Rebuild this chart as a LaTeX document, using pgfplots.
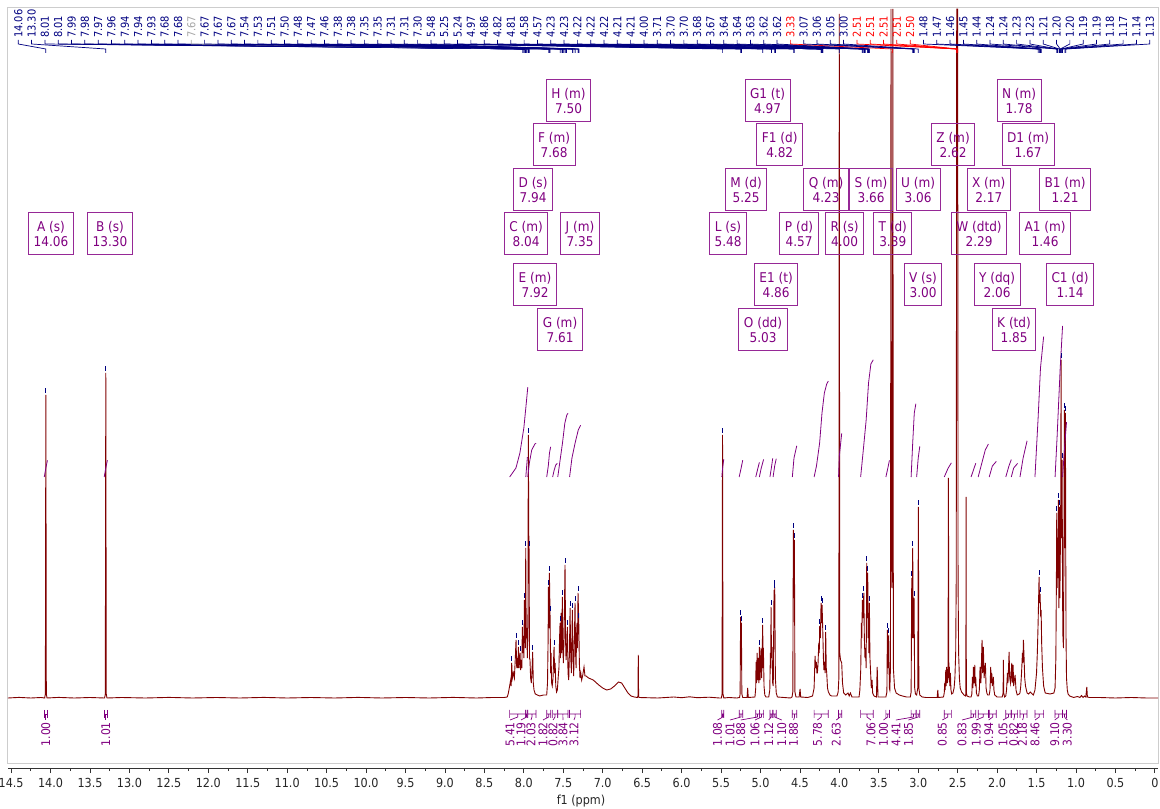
\documentclass[border=0pt]{standalone}
\usepackage{fontspec}
\setmainfont{DejaVu Sans Condensed}
\usepackage{pgfplots}
\pgfplotsset{compat=1.18}

\definecolor{spec}{RGB}{128,0,0}
\definecolor{pk}{RGB}{0,0,128}
\definecolor{gry}{RGB}{165,165,165}
\definecolor{solv}{RGB}{255,0,0}
\definecolor{mult}{RGB}{128,0,128}
\definecolor{boxc}{RGB}{150,40,150}
\definecolor{framec}{RGB}{205,205,205}

\newcommand\pklabelfont{\fontsize{11}{11}\selectfont}
\newcommand\intfont{\fontsize{12}{12}\selectfont}
\newcommand\boxfont{\fontsize{13.5}{15}\selectfont}

\begin{document}
\begin{tikzpicture}
\useasboundingbox (0,0) rectangle (1160bp,809bp);
\begin{axis}[
  at={(8bp,41bp)}, anchor=south west,
  scale only axis, width=1150bp, height=760bp,
  xmin=-0.04, xmax=14.54, ymin=-70, ymax=690,
  x dir=reverse, clip=false,
  axis x line*=bottom, axis y line=none,
  x axis line style={-, black!80, line width=0.8bp},
  xtick={0,0.5,1,1.5,2,2.5,3,3.5,4,4.5,5,5.5,6,6.5,7,7.5,8,8.5,9,9.5,10,10.5,11,11.5,12,12.5,13,13.5,14,14.5},
  xticklabels={0,0.5,1.0,1.5,2.0,2.5,3.0,3.5,4.0,4.5,5.0,5.5,6.0,6.5,7.0,7.5,8.0,8.5,9.0,9.5,10.0,10.5,11.0,11.5,12.0,12.5,13.0,13.5,14.0,14.5},
  minor x tick num=1,
  tick align=outside,
  major tick length=5bp, minor tick length=3bp,
  every tick/.style={black!80, line width=0.8bp},
  xticklabel style={font=\fontsize{12.5}{12.5}\selectfont, text=black!85, yshift=-2bp},
]

% light frame round the spectrum area
\draw[framec, line width=1bp] (axis cs:14.54,-65) rectangle (axis cs:-0.04,690);

% 1H spectrum
\addplot[spec, line width=0.9bp] coordinates {
(14.54,0) (14.40,0.6) (14.25,0) (14.12,0.5)
(14.075,0) (14.066,4) (14.06,303) (14.054,4) (14.045,0)
(13.90,0.6) (13.70,0) (13.50,0.5)
(13.315,0) (13.306,4) (13.30,325) (13.294,4) (13.285,0)
(13.10,0.5) (12.80,0) (12.50,0.6) (12.20,0) (11.90,0.5) (11.60,0) (11.30,0.6) (11.00,0) (10.70,0.5) (10.40,0) (10.10,0.6) (9.80,0) (9.50,0.5) (9.20,0) (8.90,0.6) (8.60,0) (8.40,0.5) (8.25,0.5)
(8.21,1) (8.196,5) (8.18,12) (8.167,18) (8.16,12) (8.154,35) (8.145,20) (8.133,25) (8.12,20) (8.108,40) (8.099,58) (8.09,30) (8.082,40) (8.075,30) (8.069,51) (8.06,30) (8.048,45) (8.04,28) (8.031,38) (8.025,30) (8.019,71) (8.012,45) (8.006,62) (7.999,40) (7.993,98) (7.988,55) (7.985,65) (7.98,50) (7.976,150) (7.97,60) (7.964,70) (7.955,40) (7.948,80) (7.943,263) (7.937,160) (7.934,150) (7.928,40) (7.922,38) (7.914,20) (7.905,15) (7.895,30) (7.888,46) (7.88,15) (7.871,8) (7.855,4) (7.80,2) (7.75,3) (7.72,3)
(7.71,3) (7.70,15) (7.692,60) (7.689,111) (7.683,70) (7.676,125) (7.668,85) (7.66,25) (7.655,45) (7.648,15) (7.64,12) (7.63,20) (7.622,40) (7.617,51) (7.61,25) (7.603,35) (7.595,12) (7.585,6) (7.575,8)
(7.565,20) (7.555,30) (7.547,60) (7.541,75) (7.535,40) (7.528,85) (7.52,45) (7.512,101) (7.505,50) (7.499,35) (7.49,60) (7.478,133) (7.47,55) (7.465,38) (7.455,50) (7.448,71) (7.44,25) (7.431,18) (7.422,45) (7.414,90) (7.405,40) (7.397,25) (7.39,60) (7.385,88) (7.376,40) (7.368,22) (7.36,55) (7.351,95) (7.344,45) (7.338,30) (7.332,60) (7.326,75) (7.32,50) (7.313,105) (7.304,78) (7.296,35) (7.288,20) (7.278,25) (7.267,18) (7.255,22) (7.237,31) (7.225,22)
(7.21,22) (7.18,20) (7.12,18) (7.05,13) (7.00,10) (6.95,8) (6.90,9) (6.85,12) (6.80,16) (6.76,15) (6.72,10) (6.68,5) (6.64,2) (6.60,1) (6.56,0.5)
(6.553,2) (6.549,43) (6.545,2) (6.54,0.5)
(6.30,0) (6.10,1) (6.00,0.3) (5.90,1.2) (5.80,0.3) (5.65,0.8) (5.52,0)
(5.495,0) (5.487,4) (5.481,263) (5.475,4) (5.465,0)
(5.40,0.5) (5.30,0)
(5.265,0.5) (5.258,4) (5.252,81) (5.247,40) (5.242,75) (5.236,4) (5.225,0.5)
(5.17,0.5) (5.162,10) (5.155,0.5)
(5.07,1) (5.06,10) (5.056,36) (5.05,15) (5.043,45) (5.035,18) (5.026,40) (5.02,15) (5.014,51) (5.005,18) (4.993,50) (4.985,20) (4.978,45) (4.972,73) (4.966,30) (4.963,50) (4.955,12) (4.945,3) (4.93,1)
(4.895,1) (4.882,8) (4.874,45) (4.87,30) (4.866,91) (4.86,40) (4.853,51) (4.845,15) (4.838,12) (4.828,108) (4.824,70) (4.819,111) (4.811,20) (4.80,5) (4.785,1)
(4.70,0.5) (4.62,0)
(4.60,1) (4.59,6) (4.583,168) (4.577,100) (4.57,158) (4.563,6) (4.55,1)
(4.51,1) (4.498,9) (4.49,1) (4.40,0.5)
(4.34,2) (4.32,10) (4.308,42) (4.30,30) (4.291,36) (4.285,25) (4.278,25) (4.27,35) (4.261,55) (4.255,45) (4.249,72) (4.24,60) (4.232,95) (4.226,75) (4.219,93) (4.211,70) (4.202,40) (4.196,28) (4.19,36) (4.18,25) (4.173,66) (4.166,30) (4.16,25) (4.15,10) (4.139,6) (4.12,3) (4.10,2)
(4.03,2) (4.015,6) (4.006,20) (4.001,684) (3.995,45) (3.985,38) (3.97,35) (3.96,15) (3.945,5) (3.92,3) (3.89,5) (3.875,2) (3.86,5) (3.84,1) (3.78,1)
(3.75,1) (3.74,8) (3.729,28) (3.72,75) (3.715,60) (3.708,98) (3.70,80) (3.69,105) (3.683,60) (3.675,40) (3.668,50) (3.66,30) (3.653,135) (3.647,80) (3.64,125) (3.635,60) (3.63,85) (3.625,45) (3.619,95) (3.612,40) (3.605,28) (3.595,10) (3.585,18) (3.578,5) (3.56,2)
(3.53,1) (3.52,31) (3.51,1)
(3.41,1) (3.397,6) (3.391,68) (3.383,30) (3.374,63) (3.366,10) (3.36,8)
(3.352,30) (3.345,689) (3.339,140) (3.333,110) (3.327,140) (3.322,689) (3.315,30) (3.30,10) (3.28,5) (3.24,3) (3.20,2) (3.15,1)
(3.10,1) (3.09,6) (3.082,120) (3.077,60) (3.07,150) (3.062,60) (3.053,100) (3.045,10) (3.035,4)
(3.02,3) (3.006,10) (2.998,191) (2.992,10) (2.98,3) (2.95,1) (2.90,0.5)
(2.76,0.5) (2.752,8) (2.745,0.5)
(2.68,1) (2.67,5) (2.664,15) (2.658,8) (2.651,28) (2.645,12) (2.639,31) (2.63,15) (2.622,20) (2.617,220) (2.612,20) (2.605,31) (2.60,12) (2.592,25) (2.585,8) (2.575,4)
(2.56,5) (2.545,10) (2.535,20) (2.525,45) (2.518,120) (2.512,689) (2.506,689) (2.50,689) (2.495,120) (2.488,45) (2.478,20) (2.468,10) (2.45,6) (2.42,3)
(2.40,2) (2.396,5) (2.393,201) (2.39,5) (2.38,2) (2.35,1)
(2.33,1) (2.32,4) (2.313,21) (2.306,10) (2.30,31) (2.292,15) (2.283,33) (2.277,12) (2.271,21) (2.262,5) (2.25,2)
(2.235,2) (2.225,8) (2.216,31) (2.205,15) (2.191,58) (2.183,25) (2.174,51) (2.165,20) (2.148,35) (2.14,10) (2.13,5) (2.12,3)
(2.10,3) (2.09,8) (2.081,31) (2.075,15) (2.068,25) (2.06,12) (2.047,21) (2.04,8) (2.03,3) (2.00,1)
(1.935,1) (1.924,5) (1.92,38) (1.916,5) (1.905,1)
(1.89,2) (1.88,8) (1.869,25) (1.862,15) (1.848,46) (1.84,20) (1.83,15) (1.814,35) (1.808,15) (1.797,33) (1.79,12) (1.772,23) (1.76,8) (1.745,3) (1.72,4)
(1.71,5) (1.70,12) (1.69,25) (1.679,45) (1.673,35) (1.666,58) (1.658,40) (1.65,20) (1.64,12) (1.62,5) (1.60,4) (1.58,6)
(1.54,3) (1.52,8) (1.50,25) (1.49,45) (1.48,75) (1.468,121) (1.462,95) (1.455,104) (1.449,85) (1.442,88) (1.435,55) (1.425,30) (1.41,12) (1.39,5) (1.33,4) (1.28,5)
(1.265,10) (1.255,40) (1.248,120) (1.244,185) (1.24,110) (1.233,150) (1.228,120) (1.223,198) (1.217,90) (1.21,191) (1.204,100) (1.198,150) (1.193,200) (1.189,338) (1.184,160) (1.180,200) (1.176,238) (1.17,100) (1.165,60) (1.158,50) (1.153,150) (1.147,288) (1.141,160) (1.138,150) (1.134,285) (1.129,130) (1.126,60) (1.12,20) (1.11,8) (1.10,4) (1.08,2)
(1.03,0.5) (0.98,1.5) (0.95,0.5) (0.93,2.5) (0.91,0.5) (0.89,2) (0.875,1) (0.863,11) (0.855,1) (0.83,0.5) (0.70,0.5) (0.50,0) (0.30,0.5) (0.10,0) (-0.04,0)
};

% picked peak tops
\addplot[pk, only marks, mark=|, mark size=2.5bp, mark options={line width=1bp}] coordinates {
(14.06,307) (13.30,329) (8.154,39) (8.099,62) (8.069,55) (8.048,49) (8.019,75) (7.993,102) (7.976,154) (7.943,267) (7.934,154) (7.888,50)
(7.689,115) (7.676,129) (7.668,89) (7.617,55) (7.541,79) (7.512,105) (7.478,137) (7.448,75) (7.414,94) (7.385,92) (7.351,99) (7.313,109) (7.304,82)
(5.481,267) (5.252,85) (5.242,79) (5.014,55) (4.972,77) (4.866,95) (4.828,112) (4.819,115) (4.583,172) (4.57,162)
(4.249,76) (4.232,99) (4.219,97) (4.173,70) (3.708,102) (3.69,109) (3.653,139) (3.64,129) (3.619,99) (3.391,72) (3.374,67)
(3.082,124) (3.07,154) (3.053,104) (2.998,195) (1.468,125) (1.455,108) (1.244,189) (1.223,202) (1.21,195) (1.189,342) (1.176,242) (1.147,292) (1.134,289)
};

% integral curves
\addplot[mult, line width=0.8bp] coordinates {(14.08,221) (14.06,230) (14.04,237.6)};
\addplot[mult, line width=0.8bp] coordinates {(13.32,221) (13.30,230) (13.28,237.8)};
\addplot[mult, line width=0.8bp] coordinates {(8.18,221) (8.10,230) (8.05,245) (8.00,270) (7.975,290) (7.95,310.8)};
\addplot[mult, line width=0.8bp] coordinates {(7.975,221) (7.965,231) (7.955,240.8)};
\addplot[mult, line width=0.8bp] coordinates {(7.95,221) (7.93,235) (7.90,248) (7.86,254) (7.845,254.7)};
\addplot[mult, line width=0.8bp] coordinates {(7.71,221) (7.69,232) (7.675,245) (7.66,251.2)};
\addplot[mult, line width=0.8bp] coordinates {(7.635,221) (7.615,228) (7.595,233) (7.575,234.6)};
\addplot[mult, line width=0.8bp] coordinates {(7.57,221) (7.54,238) (7.51,255) (7.48,275) (7.455,283) (7.44,284.7)};
\addplot[mult, line width=0.8bp] coordinates {(7.42,221) (7.39,240) (7.35,255) (7.31,268) (7.28,272.8)};
\addplot[mult, line width=0.8bp] coordinates {(5.49,221) (5.48,230) (5.465,238.9)};
\addplot[mult, line width=0.8bp] coordinates {(5.27,221) (5.245,230) (5.225,237.8)};
\addplot[mult, line width=0.8bp] coordinates {(5.06,221) (5.035,229) (5.014,235.6)};
\addplot[mult, line width=0.8bp] coordinates {(5.014,221) (4.99,230) (4.96,238.6)};
\addplot[mult, line width=0.8bp] coordinates {(4.88,221) (4.86,231) (4.845,239.6)};
\addplot[mult, line width=0.8bp] coordinates {(4.84,221) (4.82,232) (4.80,239.3)};
\addplot[mult, line width=0.8bp] coordinates {(4.596,221) (4.575,240) (4.54,252.2)};
\addplot[mult, line width=0.8bp] coordinates {(4.32,221) (4.29,232) (4.25,255) (4.22,285) (4.19,305) (4.16,314) (4.14,316.9)};
\addplot[mult, line width=0.8bp] coordinates {(4.01,221) (4.00,242) (3.97,264.7)};
\addplot[mult, line width=0.8bp] coordinates {(3.73,221) (3.70,245) (3.66,278) (3.63,315) (3.60,334) (3.57,338.2)};
\addplot[mult, line width=0.8bp] coordinates {(3.41,221) (3.385,230) (3.365,237.6)};
\addplot[mult, line width=0.8bp] coordinates {(3.09,221) (3.07,255) (3.05,285) (3.03,294.2)};
\addplot[mult, line width=0.8bp] coordinates {(3.02,221) (3.00,240) (2.98,251.7)};
\addplot[mult, line width=0.8bp] coordinates {(2.67,221) (2.62,230) (2.58,235.1)};
\addplot[mult, line width=0.8bp] coordinates {(2.33,221) (2.30,228) (2.27,234.8)};
\addplot[mult, line width=0.8bp] coordinates {(2.24,221) (2.19,236) (2.15,248) (2.11,254)};
\addplot[mult, line width=0.8bp] coordinates {(2.10,221) (2.06,232) (2.01,236.6)};
\addplot[mult, line width=0.8bp] coordinates {(1.89,221) (1.85,232) (1.82,238.4)};
\addplot[mult, line width=0.8bp] coordinates {(1.82,221) (1.79,230) (1.74,234.6)};
\addplot[mult, line width=0.8bp] coordinates {(1.71,221) (1.67,240) (1.62,257.2)};
\addplot[mult, line width=0.8bp] coordinates {(1.52,221) (1.48,280) (1.45,330) (1.41,361.4)};
\addplot[mult, line width=0.8bp] coordinates {(1.265,221) (1.24,260) (1.20,330) (1.17,372)};
\addplot[mult, line width=0.8bp] coordinates {(1.17,221) (1.145,250) (1.12,275.8)};

% peak labels along the top, joined to their peaks
\foreach \v/\c [count=\i from 0] in {14.06/pk,13.30/pk,8.01/pk,8.01/pk,7.99/pk,7.98/pk,7.97/pk,7.96/pk,7.94/pk,7.94/pk,7.93/pk,7.68/pk,7.68/pk,7.67/gry,7.67/pk,7.67/pk,7.67/pk,7.54/pk,7.53/pk,7.51/pk,7.50/pk,7.48/pk,7.47/pk,7.46/pk,7.38/pk,7.38/pk,7.35/pk,7.35/pk,7.31/pk,7.31/pk,7.30/pk,5.48/pk,5.25/pk,5.24/pk,4.97/pk,4.86/pk,4.82/pk,4.81/pk,4.58/pk,4.57/pk,4.23/pk,4.23/pk,4.22/pk,4.22/pk,4.22/pk,4.21/pk,4.21/pk,4.00/pk,3.71/pk,3.70/pk,3.70/pk,3.68/pk,3.67/pk,3.64/pk,3.64/pk,3.63/pk,3.62/pk,3.62/pk,3.33/solv,3.07/pk,3.06/pk,3.05/pk,3.00/pk,2.51/solv,2.51/solv,2.51/solv,2.51/solv,2.50/solv,1.48/pk,1.47/pk,1.46/pk,1.45/pk,1.44/pk,1.24/pk,1.24/pk,1.23/pk,1.23/pk,1.21/pk,1.20/pk,1.20/pk,1.19/pk,1.19/pk,1.18/pk,1.17/pk,1.14/pk,1.13/pk}{%
  \pgfmathsetmacro{\lx}{14.4094-0.168759*\i}%
  \edef\temp{%
    \noexpand\draw[\c, line width=0.7bp] (axis cs:\lx,658) -- (axis cs:\lx,654) -- (axis cs:\v,649) -- (axis cs:\v,645);
    \noexpand\node[rotate=90, anchor=west, inner sep=0pt, text=\c, font=\noexpand\pklabelfont] at (axis cs:\lx,660) {\v};
  }\temp
}

% integration ranges and values below the baseline
\foreach \a/\b/\l/\t in {14.08/14.04/14.06/1.00,13.32/13.28/13.30/1.01,8.18/7.975/8.175/5.41,7.975/7.955/8.036/1.19,7.95/7.845/7.909/2.03,7.71/7.66/7.757/1.82,7.635/7.575/7.63/0.82,7.57/7.44/7.503/3.84,7.42/7.28/7.364/3.12,5.49/5.465/5.544/1.08,5.27/5.225/5.386/1.01,5.06/5.014/5.25/0.88,5.014/4.96/5.069/1.06,4.88/4.845/4.897/1.12,4.84/4.80/4.73/1.10,4.596/4.54/4.58/1.88,4.32/4.14/4.278/5.78,4.01/3.97/4.038/2.63,3.73/3.57/3.599/7.06,3.41/3.365/3.44/1.00,3.09/3.03/3.283/4.41,3.02/2.98/3.124/1.85,2.67/2.58/2.694/0.85,2.33/2.27/2.445/0.83,2.24/2.11/2.264/1.99,2.10/2.01/2.107/0.94,1.89/1.82/1.925/1.05,1.82/1.74/1.79/0.82,1.71/1.62/1.677/2.18,1.52/1.41/1.519/8.46,1.265/1.17/1.27/9.10,1.17/1.12/1.11/3.30}{%
  \pgfmathsetmacro{\m}{(\a+\b)/2}%
  \edef\temp{%
    \noexpand\draw[mult, line width=0.7bp] (axis cs:\a,-12) -- (axis cs:\a,-20) (axis cs:\a,-16) -- (axis cs:\b,-16) (axis cs:\b,-12) -- (axis cs:\b,-20) (axis cs:\m,-16) -- (axis cs:\m,-19) -- (axis cs:\l,-22);
    \noexpand\node[rotate=90, anchor=east, inner sep=0pt, text=mult, font=\noexpand\intfont] at (axis cs:\l,-24) {\t};
  }\temp
}

% multiplet reports
\tikzset{mbox/.style={draw=boxc, line width=1bp, text=mult, align=center, font=\boxfont, minimum height=42bp, inner xsep=5bp, inner ysep=3bp}}
\node[mbox] at (axis cs:13.995,464) {A (s)\\14.06};
\node[mbox] at (axis cs:13.247,464) {B (s)\\13.30};
\node[mbox] at (axis cs:7.433,597) {H (m)\\7.50};
\node[mbox] at (axis cs:7.617,553) {F (m)\\7.68};
\node[mbox] at (axis cs:7.883,508) {D (s)\\7.94};
\node[mbox] at (axis cs:7.972,464) {C (m)\\8.04};
\node[mbox] at (axis cs:7.288,464) {J (m)\\7.35};
\node[mbox] at (axis cs:7.858,413) {E (m)\\7.92};
\node[mbox] at (axis cs:7.541,368) {G (m)\\7.61};
\node[mbox] at (axis cs:4.910,597) {G1 (t)\\4.97};
\node[mbox] at (axis cs:4.756,553) {F1 (d)\\4.82};
\node[mbox] at (axis cs:5.183,508) {M (d)\\5.25};
\node[mbox] at (axis cs:4.168,508) {Q (m)\\4.23};
\node[mbox] at (axis cs:3.598,508) {S (m)\\3.66};
\node[mbox] at (axis cs:3.002,508) {U (m)\\3.06};
\node[mbox] at (axis cs:5.411,464) {L (s)\\5.48};
\node[mbox] at (axis cs:4.511,464) {P (d)\\4.57};
\node[mbox] at (axis cs:3.934,464) {R (s)\\4.00};
\node[mbox] at (axis cs:3.323,464) {T (d)\\3.39};
\node[mbox] at (axis cs:4.802,413) {E1 (t)\\4.86};
\node[mbox] at (axis cs:2.939,413) {V (s)\\3.00};
\node[mbox] at (axis cs:4.967,368) {O (dd)\\5.03};
\node[mbox] at (axis cs:1.721,597) {N (m)\\1.78};
\node[mbox] at (axis cs:2.558,553) {Z (m)\\2.62};
\node[mbox] at (axis cs:1.607,553) {D1 (m)\\1.67};
\node[mbox] at (axis cs:2.106,508) {X (m)\\2.17};
\node[mbox] at (axis cs:1.138,508) {B1 (m)\\1.21};
\node[mbox] at (axis cs:2.229,464) {W (dtd)\\2.29};
\node[mbox] at (axis cs:1.392,464) {A1 (m)\\1.46};
\node[mbox] at (axis cs:2.000,413) {Y (dq)\\2.06};
\node[mbox] at (axis cs:1.075,413) {C1 (d)\\1.14};
\node[mbox] at (axis cs:1.785,368) {K (td)\\1.85};

% axis title
\node[font=\fontsize{12.5}{12.5}\selectfont, text=black!85] at (axis cs:7.275,-103) {f1 (ppm)};
\end{axis}
\end{tikzpicture}
\end{document}
